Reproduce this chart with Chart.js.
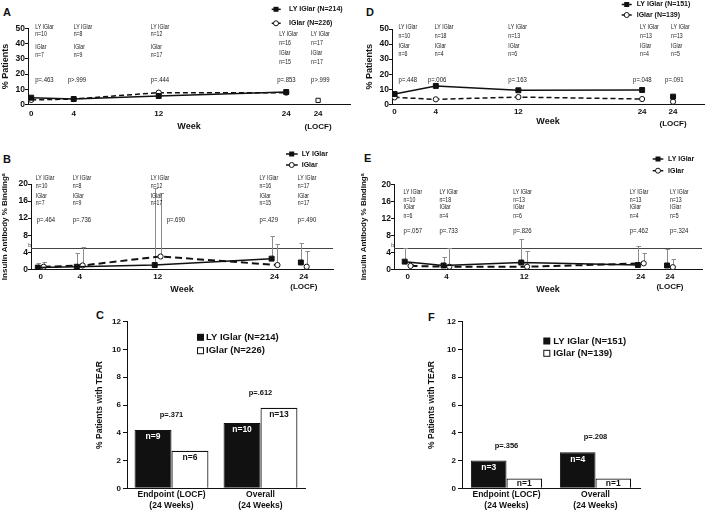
<!DOCTYPE html>
<html><head><meta charset="utf-8">
<script src="https://cdn.jsdelivr.net/npm/chart.js@4.4.0/dist/chart.umd.min.js"></script>
<style>
html,body{margin:0;padding:0;background:#fff}
body{width:709px;height:512px;overflow:hidden;position:relative;font-family:"Liberation Sans",Arial,sans-serif}
canvas{position:absolute}
.lbl{position:absolute;font:bold 11px "Liberation Sans",Arial,sans-serif;line-height:11px;color:#111}
</style></head><body>
<div class="lbl" style="left:3px;top:7px">A</div>
<div class="lbl" style="left:366px;top:7px">D</div>
<div class="lbl" style="left:3px;top:154px">B</div>
<div class="lbl" style="left:364px;top:153px">E</div>
<div class="lbl" style="left:96px;top:310px">C</div>
<div class="lbl" style="left:428px;top:312px">F</div>
<canvas id="cA" width="355" height="140" style="left:0;top:0"></canvas>
<canvas id="cD" width="354" height="140" style="left:355px;top:0"></canvas>
<canvas id="cB" width="355" height="160" style="left:0;top:140px"></canvas>
<canvas id="cE" width="354" height="160" style="left:355px;top:140px"></canvas>
<canvas id="cC" width="355" height="212" style="left:0;top:300px"></canvas>
<canvas id="cF" width="354" height="212" style="left:355px;top:300px"></canvas>
<script>
// ---------- shared categories ----------
const weeks = [0, 4, 12, 24];
const locfWeek = 27;
const weekTicks = [0, 4, 12, 24, 27];
const weekLabels = ['0', '4', '12', '24', ['24', '(LOCF)']];

// ---------- Panel A : % patients (N=214 / N=226) ----------
const aLY = [4.5, 3.6, 5.6, 8.2];
const aIG = [3.0, 3.6, 7.8, 7.8];
const aLocfIG = 2.7;
const aNLY = ['n=10', 'n=8', 'n=12', 'n=16', 'n=17'];
const aNIG = ['n=7', 'n=9', 'n=17', 'n=15', 'n=17'];
const aP = ['p=.463', 'p>.999', 'p=.444', 'p=.853', 'p>.999'];

// ---------- Panel D : % patients (N=151 / N=139) ----------
const dLY = [6.8, 12.2, 9.3, 9.5];
const dIG = [4.6, 3.3, 4.8, 3.5];
const dLocfLY = 5.1;
const dLocfIG = 1.7;
const dNLY = ['n=10', 'n=18', 'n=13', 'n=13', 'n=13'];
const dNIG = ['n=6', 'n=4', 'n=6', 'n=4', 'n=5'];
const dP = ['p=.448', 'p=.006', 'p=.163', 'p=.048', 'p=.091'];

// ---------- Panel B : insulin antibody % binding (weeks 0,4,12,24,LOCF) ----------
const bLY = [0.4, 0.6, 1.0, 2.5, 1.6];
const bLYUpper = [1.4, 3.8, 19.0, 7.9, 6.2];
const bIG = [0.6, 0.9, 3.0, 1.0, 0.6];
const bIGUpper = [1.6, 5.2, 18.0, 6.0, 4.3];
const bP = ['p=.464', 'p=.736', 'p=.690', 'p=.429', 'p=.490'];

// ---------- Panel E ----------
const eLY = [1.8, 0.9, 1.6, 1.0, 0.9];
const eLYUpper = [4.9, 3.0, 7.2, 5.5, 4.8];
const eIG = [0.8, 0.6, 0.6, 1.4, 0.5];
const eIGUpper = [1.3, 5.1, 4.2, 3.8, 2.4];
const eP = ['p=.057', 'p=.733', 'p=.826', 'p=.462', 'p=.324'];

const bindingThreshold = 5;

// ---------- Panels C / F : % patients with TEAR ----------
const barCats = [['Endpoint (LOCF)', '(24 Weeks)'], ['Overall', '(24 Weeks)']];
const cLY = [4.2, 4.7];
const cIG = [2.7, 5.8];
const cNLY = ['n=9', 'n=10'];
const cNIG = ['n=6', 'n=13'];
const cP = ['p=.371', 'p=.612'];
const fLY = [2.0, 2.6];
const fIG = [0.7, 0.7];
const fNLY = ['n=3', 'n=4'];
const fNIG = ['n=1', 'n=1'];
const fP = ['p=.356', 'p=.208'];

// ---------- styling helpers ----------
const FF = '"Liberation Sans", Arial, sans-serif';
const INK = '#111';
const nameFont = '7px "Liberation Sans", Arial, sans-serif';
const nameSqueeze = 0.74;
const pFont = '6.5px "Liberation Sans", Arial, sans-serif';
const pSqueeze = 0.92;

function squeezedText(ctx, t, x, y, k) {
  ctx.save(); ctx.translate(x, y); ctx.scale(k, 1); ctx.fillText(t, 0, 0); ctx.restore();
}

const decor = {
  id: 'decor',
  beforeDatasetsDraw(chart, args, o) {
    const ctx = chart.ctx, ca = chart.chartArea, xs = chart.scales.x, ys = chart.scales.y;
    ctx.save();
    if (o.threshold != null) {
      const y = Math.round(ys.getPixelForValue(o.threshold)) + 0.5;
      ctx.strokeStyle = '#444'; ctx.lineWidth = 1;
      ctx.beginPath(); ctx.moveTo(ca.left, y); ctx.lineTo(ca.right, y); ctx.stroke();
      ctx.fillStyle = '#333'; ctx.font = '5px ' + FF; ctx.textAlign = 'right'; ctx.textBaseline = 'bottom';
      ctx.fillText('b', ca.left, y);
    }
    (o.errors || []).forEach(e => {
      ctx.strokeStyle = '#8c8c8c'; ctx.lineWidth = 1;
      e.x.forEach((xv, i) => {
        const px = Math.round(xs.getPixelForValue(xv)) + 0.5;
        const y0 = ys.getPixelForValue(e.from[i]);
        const y1 = Math.round(ys.getPixelForValue(e.to[i])) + 0.5;
        ctx.beginPath(); ctx.moveTo(px, y0); ctx.lineTo(px, y1);
        ctx.moveTo(px - 2, y1); ctx.lineTo(px + 2.5, y1); ctx.stroke();
      });
    });
    ctx.restore();
  },
  afterDraw(chart, args, o) {
    const ctx = chart.ctx, xs = chart.scales.x, ys = chart.scales.y;
    ctx.save();
    ctx.textBaseline = 'middle';
    if (o.cols) {
      const c = o.cols;
      ctx.fillStyle = '#1a1a1a'; ctx.textAlign = 'left';
      c.at.forEach((w, i) => {
        const base = xs.getPixelForValue(w);
        const rows = c.rows[c.rowSet ? c.rowSet[i] : 0];
        const lines = ['LY IGlar', c.nLY[i], 'IGlar', c.nIG[i]];
        ctx.font = nameFont;
        lines.forEach((t, j) => squeezedText(ctx, t, base + c.dx[i], rows[j], nameSqueeze));
        ctx.font = pFont;
        squeezedText(ctx, c.p[i], base + c.pdx[i], rows[4], pSqueeze);
      });
    }
    if (o.legend) {
      o.legend.forEach(it => {
        ctx.strokeStyle = INK; ctx.fillStyle = INK;
        if (it.x1 != null) {
          ctx.lineWidth = 1.5; ctx.setLineDash(it.dash || []);
          ctx.beginPath(); ctx.moveTo(it.x0, it.y); ctx.lineTo(it.x1, it.y); ctx.stroke();
          ctx.setLineDash([]);
        }
        ctx.lineWidth = 1;
        if (it.marker === 'sq') { ctx.fillRect(it.mx - 2.5, it.y - 2.5, 5, 5); }
        else if (it.marker === 'circ') {
          ctx.beginPath(); ctx.arc(it.mx, it.y, 2.5, 0, Math.PI * 2);
          ctx.fillStyle = '#fff'; ctx.fill(); ctx.stroke();
        } else if (it.marker === 'boxFill') { ctx.fillRect(it.mx, it.y - 3.5, 7, 7); }
        else if (it.marker === 'boxOpen') {
          ctx.fillStyle = '#fff'; ctx.fillRect(it.mx, it.y - 3.5, 7, 7);
          ctx.strokeRect(it.mx + 0.5, it.y - 3, 6, 6);
        }
        ctx.fillStyle = INK; ctx.textAlign = 'left';
        ctx.font = 'bold ' + it.size + 'px ' + FF;
        ctx.fillText(it.text, it.tx, it.y);
      });
    }
    if (o.bars) {
      const m = [chart.getDatasetMeta(0), chart.getDatasetMeta(1)];
      ctx.textAlign = 'center';
      ctx.font = 'bold 8.5px ' + FF;
      m.forEach((meta, k) => meta.data.forEach((el, i) => {
        const y = Math.min(el.y + 7, (el.y + el.base) / 2);
        ctx.fillStyle = k === 0 ? '#fff' : INK;
        ctx.fillText(o.bars.n[k][i], el.x, y);
      }));
      ctx.fillStyle = INK; ctx.font = 'bold 7.5px ' + FF;
      o.bars.p.forEach((t, i) => {
        const top = Math.min(m[0].data[i].y, m[1].data[i].y);
        ctx.fillText(t, xs.getPixelForValue(i), top - 15);
      });
    }
    ctx.restore();
  }
};
Chart.register(decor);

function lineOpts(cfg) {
  return {
    responsive: false, animation: false, devicePixelRatio: 1, events: [],
    layout: { padding: { left: 0, top: cfg.top, right: cfg.W - cfg.right, bottom: 0 } },
    plugins: { legend: { display: false }, tooltip: { enabled: false }, decor: cfg.decor },
    scales: {
      x: {
        type: 'linear', min: cfg.xmin, max: cfg.xmax,
        afterBuildTicks: s => { s.ticks = weekTicks.map(v => ({ value: v })); },
        afterFit: s => { s.height = cfg.H - cfg.bottom; },
        grid: { display: false, drawTicks: false },
        border: { display: true, color: INK, width: 1 },
        ticks: {
          autoSkip: false, maxRotation: 0, color: INK, padding: cfg.xpad,
          font: { family: FF, weight: 'bold', size: 8, lineHeight: cfg.xlh },
          callback: v => { const k = weekTicks.indexOf(v); return k < 0 ? '' : weekLabels[k]; }
        },
        title: { display: true, text: 'Week', color: INK, font: { family: FF, weight: 'bold', size: 9 }, padding: { top: 0, bottom: cfg.wpad } }
      },
      y: {
        min: 0, max: cfg.ymax,
        afterFit: s => { s.width = cfg.left; },
        grid: { display: true, drawOnChartArea: false, drawTicks: true, tickLength: 3, color: INK },
        border: { display: true, color: INK, width: 1 },
        ticks: { stepSize: cfg.ystep, color: INK, padding: 0, font: { family: FF, weight: 'bold', size: 8.5 } },
        title: { display: true, text: cfg.ytitle, color: INK, font: { family: FF, weight: 'bold', size: cfg.ytsize }, padding: { top: cfg.ytpad, bottom: 0 } }
      }
    }
  };
}

function pts(xsArr, ysArr) { return xsArr.map((x, i) => ({ x: x, y: ysArr[i] })); }

const lyStyle = { borderColor: INK, borderWidth: 1.5, pointStyle: 'rect', pointRadius: 3.5, pointBackgroundColor: INK, pointBorderColor: INK, pointBorderWidth: 1, tension: 0 };
const igStyle = { borderColor: INK, borderWidth: 1.5, borderDash: [5, 3], pointStyle: 'circle', pointRadius: 2.6, pointBackgroundColor: '#fff', pointBorderColor: INK, pointBorderWidth: 1, tension: 0 };

// ----- A -----
new Chart(document.getElementById('cA'), {
  type: 'line',
  data: { datasets: [
    Object.assign({ label: 'LY IGlar (N=214)', data: pts(weeks, aLY) }, lyStyle),
    Object.assign({ label: 'IGlar (N=226)', data: pts(weeks, aIG) }, igStyle),
    { label: 'IGlar LOCF', data: [{ x: locfWeek, y: aLocfIG }], showLine: false, pointStyle: 'rect', pointRadius: 3, pointBackgroundColor: '#fff', pointBorderColor: INK, pointBorderWidth: 1 }
  ] },
  options: lineOpts({ W: 355, H: 140, left: 28, right: 350, top: 28.5, bottom: 104.5, xmin: -0.3, xmax: 30, ymax: 50, ystep: 10,
    xpad: 3, xlh: 1.6, wpad: 7.6, ytitle: '% Patients', ytsize: 9, ytpad: 0,
    decor: {
      cols: { at: weekTicks, nLY: aNLY, nIG: aNIG, p: aP, dx: [4, 0, -8, -7, -7], pdx: [4, -6, -8, -9, -7],
        rows: [[27.3, 34, 46.7, 55, 80], [34.3, 42.7, 53.3, 62.3, 80]], rowSet: [0, 0, 0, 1, 1] },
      legend: [
        { y: 9.3, x0: 271.7, x1: 280.7, mx: 276, marker: 'sq', tx: 289, text: 'LY IGlar (N=214)', size: 7 },
        { y: 23.3, x0: 271.7, x1: 280.7, mx: 276, marker: 'circ', tx: 289, text: 'IGlar (N=226)', size: 7 }
      ]
    } })
});

// ----- D -----
new Chart(document.getElementById('cD'), {
  type: 'line',
  data: { datasets: [
    Object.assign({ label: 'LY IGlar (N=151)', data: pts(weeks, dLY) }, lyStyle),
    Object.assign({ label: 'IGlar (N=139)', data: pts(weeks, dIG) }, igStyle),
    { label: 'LY IGlar LOCF', data: [{ x: locfWeek, y: dLocfLY }], showLine: false, pointStyle: 'rect', pointRadius: 3.5, pointBackgroundColor: INK, pointBorderColor: INK },
    { label: 'IGlar LOCF', data: [{ x: locfWeek, y: dLocfIG }], showLine: false, pointStyle: 'circle', pointRadius: 2.6, pointBackgroundColor: '#fff', pointBorderColor: INK, pointBorderWidth: 1 }
  ] },
  options: lineOpts({ W: 354, H: 140, left: 37, right: 353, top: 29, bottom: 104.3, xmin: -0.25, xmax: 30, ymax: 50, ystep: 10,
    xpad: 1.6, xlh: 1.45, wpad: 12.9, ytitle: '% Patients', ytsize: 9, ytpad: 9,
    decor: {
      cols: { at: weekTicks, nLY: dNLY, nIG: dNIG, p: dP, dx: [4, -1, -10, -2, -2], pdx: [4, -8, -10, -9, -8],
        rows: [[26.7, 35.7, 45.7, 54.3, 80]] },
      legend: [
        { y: 4.5, x0: 266.7, x1: 276.7, mx: 271.7, marker: 'sq', tx: 281.7, text: 'LY IGlar (N=151)', size: 7 },
        { y: 15, x0: 266.7, x1: 276.7, mx: 271.7, marker: 'circ', tx: 281.7, text: 'IGlar (N=139)', size: 7 }
      ]
    } })
});

// ----- B / E helpers -----
const pairOffset = 0.3;
function bindingChart(id, W, geo, ly, lyU, ig, igU, nLY, nIG, pv, colCfg, legendCfg) {
  const xLY = weeks.concat([locfWeek]).map(w => w - pairOffset);
  const xIG = weeks.concat([locfWeek]).map(w => w + pairOffset);
  return new Chart(document.getElementById(id), {
    type: 'line',
    data: { datasets: [
      Object.assign({ label: 'LY IGlar', data: pts(xLY.slice(0, 4), ly.slice(0, 4)) }, lyStyle),
      Object.assign({}, igStyle, { label: 'IGlar', data: pts(xIG.slice(0, 4), ig.slice(0, 4)), borderWidth: 2, borderDash: [7, 4] }),
      { label: 'LY IGlar LOCF', data: [{ x: xLY[4], y: ly[4] }], showLine: false, pointStyle: 'rect', pointRadius: 3.5, pointBackgroundColor: INK, pointBorderColor: INK },
      { label: 'IGlar LOCF', data: [{ x: xIG[4], y: ig[4] }], showLine: false, pointStyle: 'circle', pointRadius: 2.6, pointBackgroundColor: '#fff', pointBorderColor: INK, pointBorderWidth: 1 }
    ] },
    options: lineOpts(Object.assign({ W: W, H: 160, ymax: 20, ystep: 4, xpad: 2.4, xlh: 1.25, wpad: 5.3,
      ytitle: 'Insulin Antibody % Binding\u1d43', ytsize: 8,
      decor: {
        threshold: bindingThreshold,
        errors: [{ x: xLY, from: ly, to: lyU }, { x: xIG, from: ig, to: igU }],
        cols: Object.assign({ at: weekTicks, nLY: nLY, nIG: nIG, p: pv }, colCfg),
        legend: legendCfg
      } }, geo))
  });
}

bindingChart('cB', 355, { left: 31, right: 333, top: 44, bottom: 129.3, xmin: -1.0, xmax: 30, ytpad: 0 },
  bLY, bLYUpper, bIG, bIGUpper, aNLY, aNIG, bP,
  { dx: [-5, -7, -7, -15, -6], pdx: [-4, -7, 9, -15, -6], rows: [[37.7, 45.7, 55.7, 63.3, 80.7]] },
  [
    { y: 14, x0: 286, x1: 297.7, mx: 291.7, marker: 'sq', tx: 301.7, text: 'LY IGlar', size: 7 },
    { y: 25, x0: 286, x1: 297.7, mx: 291.7, marker: 'circ', tx: 301.7, text: 'IGlar', size: 7 }
  ]);

bindingChart('cE', 354, { left: 39, right: 347, top: 44.3, bottom: 129.3, xmin: -1.4, xmax: 30.3, ytpad: 3.5 },
  eLY, eLYUpper, eIG, eIGUpper, dNLY, dNIG, eP,
  { dx: [-4, -7, -11, -11, 0], pdx: [-4, -7, -11, -11, 0], rows: [[52.3, 60.3, 67.3, 76, 91.7]] },
  [
    { y: 19, x0: 297.7, x1: 308.3, mx: 303, marker: 'sq', tx: 313, text: 'LY IGlar', size: 7 },
    { y: 30.7, x0: 297.7, x1: 308.3, mx: 303, marker: 'circ', tx: 313, text: 'IGlar', size: 7 }
  ]);

// ----- C / F bar charts -----
function barChart(id, W, geo, ly, ig, nLY, nIG, pv, lyLabel, igLabel, lg) {
  return new Chart(document.getElementById(id), {
    type: 'bar',
    data: { labels: barCats, datasets: [
      { label: lyLabel, data: ly, backgroundColor: INK, borderColor: INK, borderWidth: 1, categoryPercentage: geo.cat, barPercentage: 1 },
      { label: igLabel, data: ig, backgroundColor: '#fff', borderColor: INK, borderWidth: 1.2, borderSkipped: 'bottom', categoryPercentage: geo.cat, barPercentage: 1 }
    ] },
    options: {
      responsive: false, animation: false, devicePixelRatio: 1, events: [],
      layout: { padding: { left: 0, top: 21.7, right: W - geo.right, bottom: 0 } },
      plugins: { legend: { display: false }, tooltip: { enabled: false },
        decor: { bars: { n: [nLY, nIG], p: pv }, legend: [
          { y: lg.y1, mx: lg.bx, marker: 'boxFill', tx: lg.tx, text: lyLabel, size: 9.5 },
          { y: lg.y2, mx: lg.bx, marker: 'boxOpen', tx: lg.tx, text: igLabel, size: 9.5 }
        ] } },
      scales: {
        x: {
          afterFit: s => { s.height = 212 - 188.3; },
          grid: { display: false, drawTicks: false },
          border: { display: true, color: INK, width: 1 },
          ticks: { autoSkip: false, maxRotation: 0, color: INK, padding: 0, font: { family: FF, weight: 'bold', size: 8.5, lineHeight: 1.4 } }
        },
        y: {
          min: 0, max: 12,
          afterFit: s => { s.width = geo.left; },
          grid: { display: true, drawOnChartArea: false, drawTicks: true, tickLength: 4, color: INK },
          border: { display: true, color: INK, width: 1 },
          ticks: { stepSize: 2, color: INK, padding: 2, font: { family: FF, weight: 'bold', size: 8 } },
          title: { display: true, text: '% Patients with TEAR', color: INK, font: { family: FF, weight: 'bold', size: 8.5 }, padding: { top: geo.tpad, bottom: 0 } }
        }
      }
    }
  });
}

barChart('cC', 355, { left: 127, right: 305, cat: 0.83, tpad: 95 }, cLY, cIG, cNLY, cNIG, cP,
  'LY IGlar (N=214)', 'IGlar (N=226)', { y1: 37.3, y2: 50.7, bx: 197, tx: 206 });
barChart('cF', 354, { left: 107, right: 285, cat: 0.8, tpad: 71.6 }, fLY, fIG, fNLY, fNIG, fP,
  'LY IGlar (N=151)', 'IGlar (N=139)', { y1: 41, y2: 53.3, bx: 188.3, tx: 198.3 });
</script>
</body></html>
